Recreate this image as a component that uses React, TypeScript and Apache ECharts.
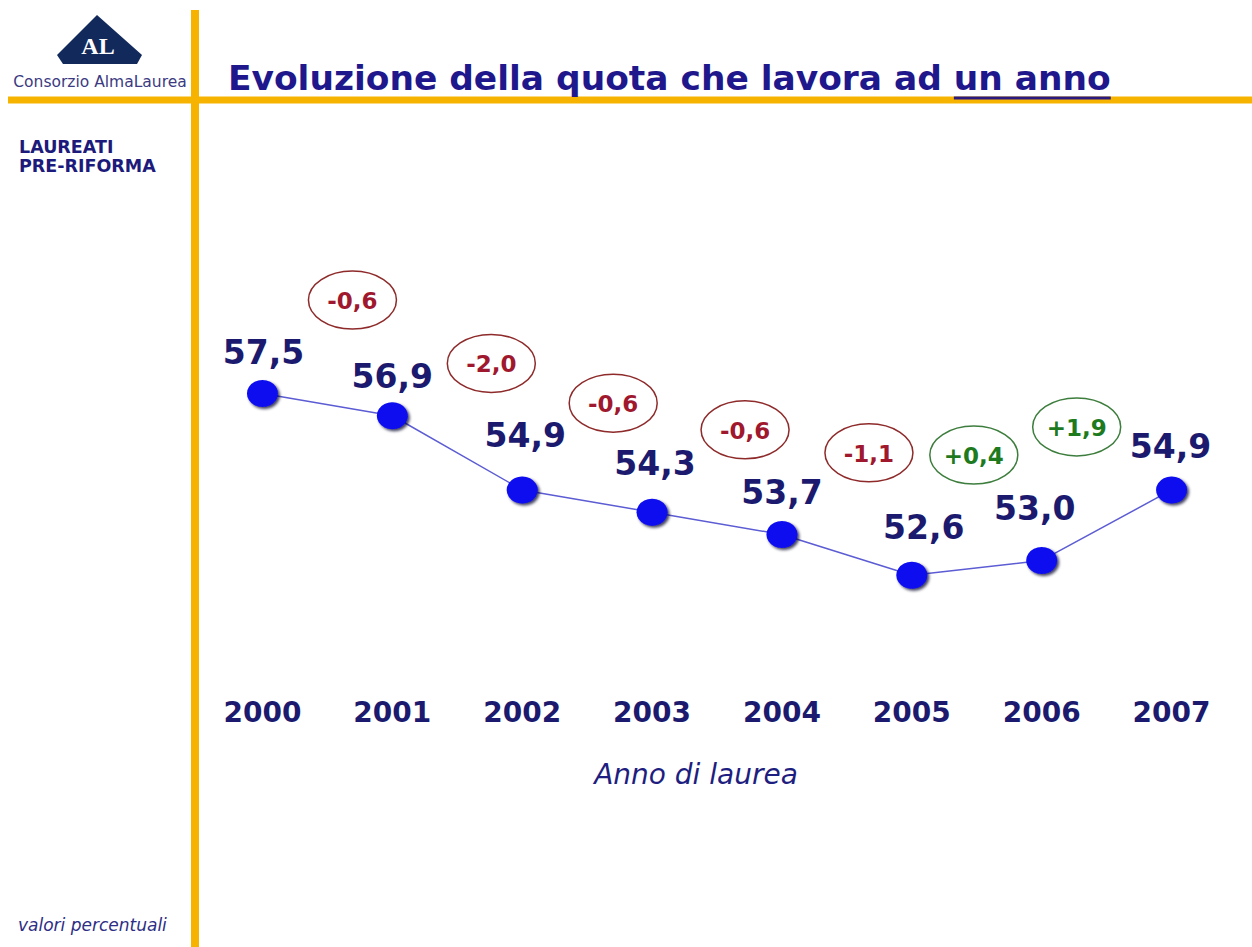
import React, { useEffect, useRef } from "react";
import * as echarts from "echarts";

// ---- data ----
const YEARS = ["2000", "2001", "2002", "2003", "2004", "2005", "2006", "2007"];
const VALUES = [57.5, 56.9, 54.9, 54.3, 53.7, 52.6, 53.0, 54.9];
const DELTAS = [-0.6, -2.0, -0.6, -0.6, -1.1, 0.4, 1.9];

// ---- layout (annotation placement) ----
const LABEL_OFFSETS = [
  [1, -41],
  [0, -39],
  [3, -54],
  [3, -49],
  [0, -42],
  [12, -48],
  [-7, -52],
  [-1, -43],
];
const BUBBLE_DX = [90, 99, 91, 93, 87, 62, 35];
const BUBBLE_Y = [60.02, 58.31, 57.24, 56.52, 55.9, 55.84, 56.6];

const FONT = "'DejaVu Sans', Verdana, sans-serif";
const NAVY = "#1b1a6e";
const ORANGE = "#f6b400";
const RED = "#a0182e";
const RED_STROKE = "#8e2a2a";
const GREEN = "#1e7a1e";
const GREEN_STROKE = "#3d7d3d";

const fmt = (v: number) => v.toFixed(1).replace(".", ",");
const fmtDelta = (v: number) => (v > 0 ? "+" : "") + fmt(v);

function measure(text: string, font: string): number {
  const c = document.createElement("canvas").getContext("2d");
  if (!c) return text.length * 18;
  c.font = font;
  return c.measureText(text).width;
}

export default function App() {
  const ref = useRef<HTMLDivElement>(null);

  useEffect(() => {
    document.body.style.margin = "0";
    if (!ref.current) return;
    const chart = echarts.init(ref.current, undefined, { renderer: "svg" });

    const titleLeft = 228;
    const titleRight = 1111;
    const titleMain = "Evoluzione della quota che lavora ad ";
    const titleUnder = "un anno";
    let titleSize = 32;
    const w100 = measure(titleMain + titleUnder, `bold 100px ${FONT}`);
    if (w100 > 0) titleSize = Math.min(36, Math.max(26, (100 * (titleRight - titleLeft)) / w100));
    const titleFont = `bold ${titleSize}px ${FONT}`;
    const wMain = measure(titleMain, titleFont);
    const wUnder = measure(titleUnder, titleFont);

    const option: any = {
      animation: false,
      backgroundColor: "#ffffff",
      grid: { left: 197.5, width: 1039, top: 300.75, height: 371, containLabel: false },
      xAxis: {
        type: "category",
        data: YEARS,
        boundaryGap: true,
        axisLine: { show: false },
        axisTick: { show: false },
        splitLine: { show: false },
        axisLabel: {
          margin: 27,
          color: NAVY,
          fontFamily: FONT,
          fontWeight: "bold",
          fontSize: 28,
        },
      },
      yAxis: {
        type: "value",
        min: 50,
        max: 60,
        show: false,
        splitLine: { show: false },
      },
      series: [
        {
          type: "line",
          data: VALUES.map((v, i) => ({
            value: v,
            label: { offset: LABEL_OFFSETS[i] },
          })),
          symbol: "circle",
          symbolSize: [31, 27],
          lineStyle: { color: "#5c5cd4", width: 1.5 },
          itemStyle: {
            color: "#0a0af0",
            shadowColor: "rgba(0,0,40,0.75)",
            shadowBlur: 3,
            shadowOffsetX: 2,
            shadowOffsetY: 2,
          },
          label: {
            show: true,
            position: "inside",
            align: "center",
            verticalAlign: "middle",
            formatter: (p: any) => fmt(p.value),
            color: NAVY,
            fontFamily: FONT,
            fontWeight: "bold",
            fontSize: 33,
          },
          z: 3,
        },
        {
          type: "custom",
          coordinateSystem: "cartesian2d",
          data: DELTAS.map((d, i) => [i, d]),
          clip: false,
          renderItem: (params: any, api: any) => {
            const i = params.dataIndex;
            const d = DELTAS[i];
            const pt = api.coord([i, BUBBLE_Y[i]]);
            const cx = pt[0] + BUBBLE_DX[i];
            const cy = pt[1];
            const pos = d > 0;
            return {
              type: "group",
              children: [
                {
                  type: "ellipse",
                  shape: { cx, cy, rx: 44, ry: 29 },
                  style: {
                    fill: "#ffffff",
                    stroke: pos ? GREEN_STROKE : RED_STROKE,
                    lineWidth: 1.5,
                  },
                },
                {
                  type: "text",
                  x: cx,
                  y: cy + 1,
                  style: {
                    text: fmtDelta(d),
                    fill: pos ? GREEN : RED,
                    font: `bold 23px ${FONT}`,
                    align: "center",
                    verticalAlign: "middle",
                    textAlign: "center",
                    textVerticalAlign: "middle",
                  },
                },
              ],
            };
          },
          z: 4,
        },
      ],
      graphic: [
        // orange frame lines
        { type: "rect", shape: { x: 191, y: 10, width: 8, height: 937 }, style: { fill: ORANGE }, z: 1 },
        { type: "rect", shape: { x: 8, y: 96.5, width: 1244, height: 7 }, style: { fill: ORANGE }, z: 1 },
        // logo
        {
          type: "polygon",
          shape: { points: [[97, 15], [57, 55], [63, 64], [137, 64], [142, 55]] },
          style: { fill: "#12295c" },
          z: 2,
        },
        {
          type: "text",
          x: 98,
          y: 46,
          style: {
            text: "AL",
            fill: "#ffffff",
            font: "bold 24px 'Liberation Serif', serif",
            align: "center",
            verticalAlign: "middle",
            textAlign: "center",
            textVerticalAlign: "middle",
          },
          z: 3,
        },
        {
          type: "text",
          x: 100,
          y: 82,
          style: {
            text: "Consorzio AlmaLaurea",
            fill: "#3c3a82",
            font: `15.5px ${FONT}`,
            align: "center",
            verticalAlign: "middle",
            textAlign: "center",
            textVerticalAlign: "middle",
          },
          z: 3,
        },
        {
          type: "text",
          x: 19,
          y: 147,
          style: {
            text: "LAUREATI",
            fill: "#1c1a7a",
            font: `bold 17.5px ${FONT}`,
            align: "left",
            verticalAlign: "middle",
            textAlign: "left",
            textVerticalAlign: "middle",
          },
          z: 3,
        },
        {
          type: "text",
          x: 19,
          y: 166,
          style: {
            text: "PRE-RIFORMA",
            fill: "#1c1a7a",
            font: `bold 17.5px ${FONT}`,
            align: "left",
            verticalAlign: "middle",
            textAlign: "left",
            textVerticalAlign: "middle",
          },
          z: 3,
        },
        // title
        {
          type: "text",
          x: titleLeft,
          y: 95,
          style: {
            text: titleMain + titleUnder,
            fill: "#1f178c",
            font: titleFont,
            align: "left",
            verticalAlign: "bottom",
            textAlign: "left",
            textVerticalAlign: "bottom",
          },
          z: 3,
        },
        {
          type: "line",
          shape: { x1: titleLeft + wMain, y1: 98, x2: titleLeft + wMain + wUnder, y2: 98 },
          style: { stroke: "#2a1a80", lineWidth: 3 },
          z: 4,
        },
        // axis title
        {
          type: "text",
          x: 696,
          y: 774,
          style: {
            text: "Anno di laurea",
            fill: "#1e1e80",
            font: `italic 28px ${FONT}`,
            align: "center",
            verticalAlign: "middle",
            textAlign: "center",
            textVerticalAlign: "middle",
          },
          z: 3,
        },
        // footnote
        {
          type: "text",
          x: 18,
          y: 925,
          style: {
            text: "valori percentuali",
            fill: "#2e2e84",
            font: `italic 17px ${FONT}`,
            align: "left",
            verticalAlign: "middle",
            textAlign: "left",
            textVerticalAlign: "middle",
          },
          z: 3,
        },
      ],
    };

    chart.setOption(option);
    return () => chart.dispose();
  }, []);

  return (
    <div
      ref={ref}
      style={{ position: "absolute", left: 0, top: 0, width: 1252, height: 947 }}
    />
  );
}
